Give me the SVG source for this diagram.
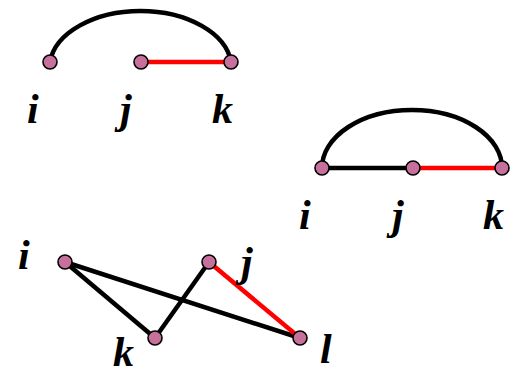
<svg xmlns="http://www.w3.org/2000/svg" width="520" height="376" viewBox="0 0 520 376">
<style>
.n{fill:#c7709c;stroke:#000;stroke-width:1.6}
.b{fill:none;stroke:#000;stroke-width:4.5}
.r{fill:none;stroke:#f00;stroke-width:4.5}
</style>
<g id="connectors">
<path class="b" d="M50,62 A91,57 0 0 1 231,62"/>
<line class="r" x1="141" y1="62" x2="231" y2="62"/>
<path class="b" d="M322,168 A90,58 0 0 1 502,168"/>
<line class="b" x1="322" y1="168" x2="413" y2="168"/>
<line class="r" x1="413" y1="168" x2="502" y2="168"/>
<line class="b" x1="65" y1="262" x2="155" y2="338"/>
<line class="b" x1="65" y1="262" x2="300" y2="338"/>
<line class="b" x1="155" y1="338" x2="209" y2="262"/>
<line class="r" x1="209" y1="262" x2="300" y2="338"/>
</g>
<g font-family="Liberation Serif, Times New Roman, serif" font-weight="bold" font-style="italic" font-size="42" fill="#000">
<g id="a-i"><circle class="n" cx="50" cy="62" r="7"/><text x="27" y="123">i</text></g>
<g id="a-j"><circle class="n" cx="141" cy="62" r="7"/><text x="120" y="123">j</text></g>
<g id="a-k"><circle class="n" cx="231" cy="62" r="7"/><text x="212" y="123">k</text></g>
<g id="b-i"><circle class="n" cx="322" cy="168" r="7"/><text x="299" y="229">i</text></g>
<g id="b-j"><circle class="n" cx="413" cy="168" r="7"/><text x="392" y="229">j</text></g>
<g id="b-k"><circle class="n" cx="502" cy="168" r="7"/><text x="483" y="229">k</text></g>
<g id="c-i"><circle class="n" cx="65" cy="262" r="7"/><text x="18" y="269">i</text></g>
<g id="c-j"><circle class="n" cx="209" cy="262" r="7"/><text x="241" y="276">j</text></g>
<g id="c-k"><circle class="n" cx="155" cy="338" r="7"/><text x="113" y="366">k</text></g>
<g id="c-l"><circle class="n" cx="300" cy="338" r="7"/><text x="320" y="363">l</text></g>
</g>
</svg>
